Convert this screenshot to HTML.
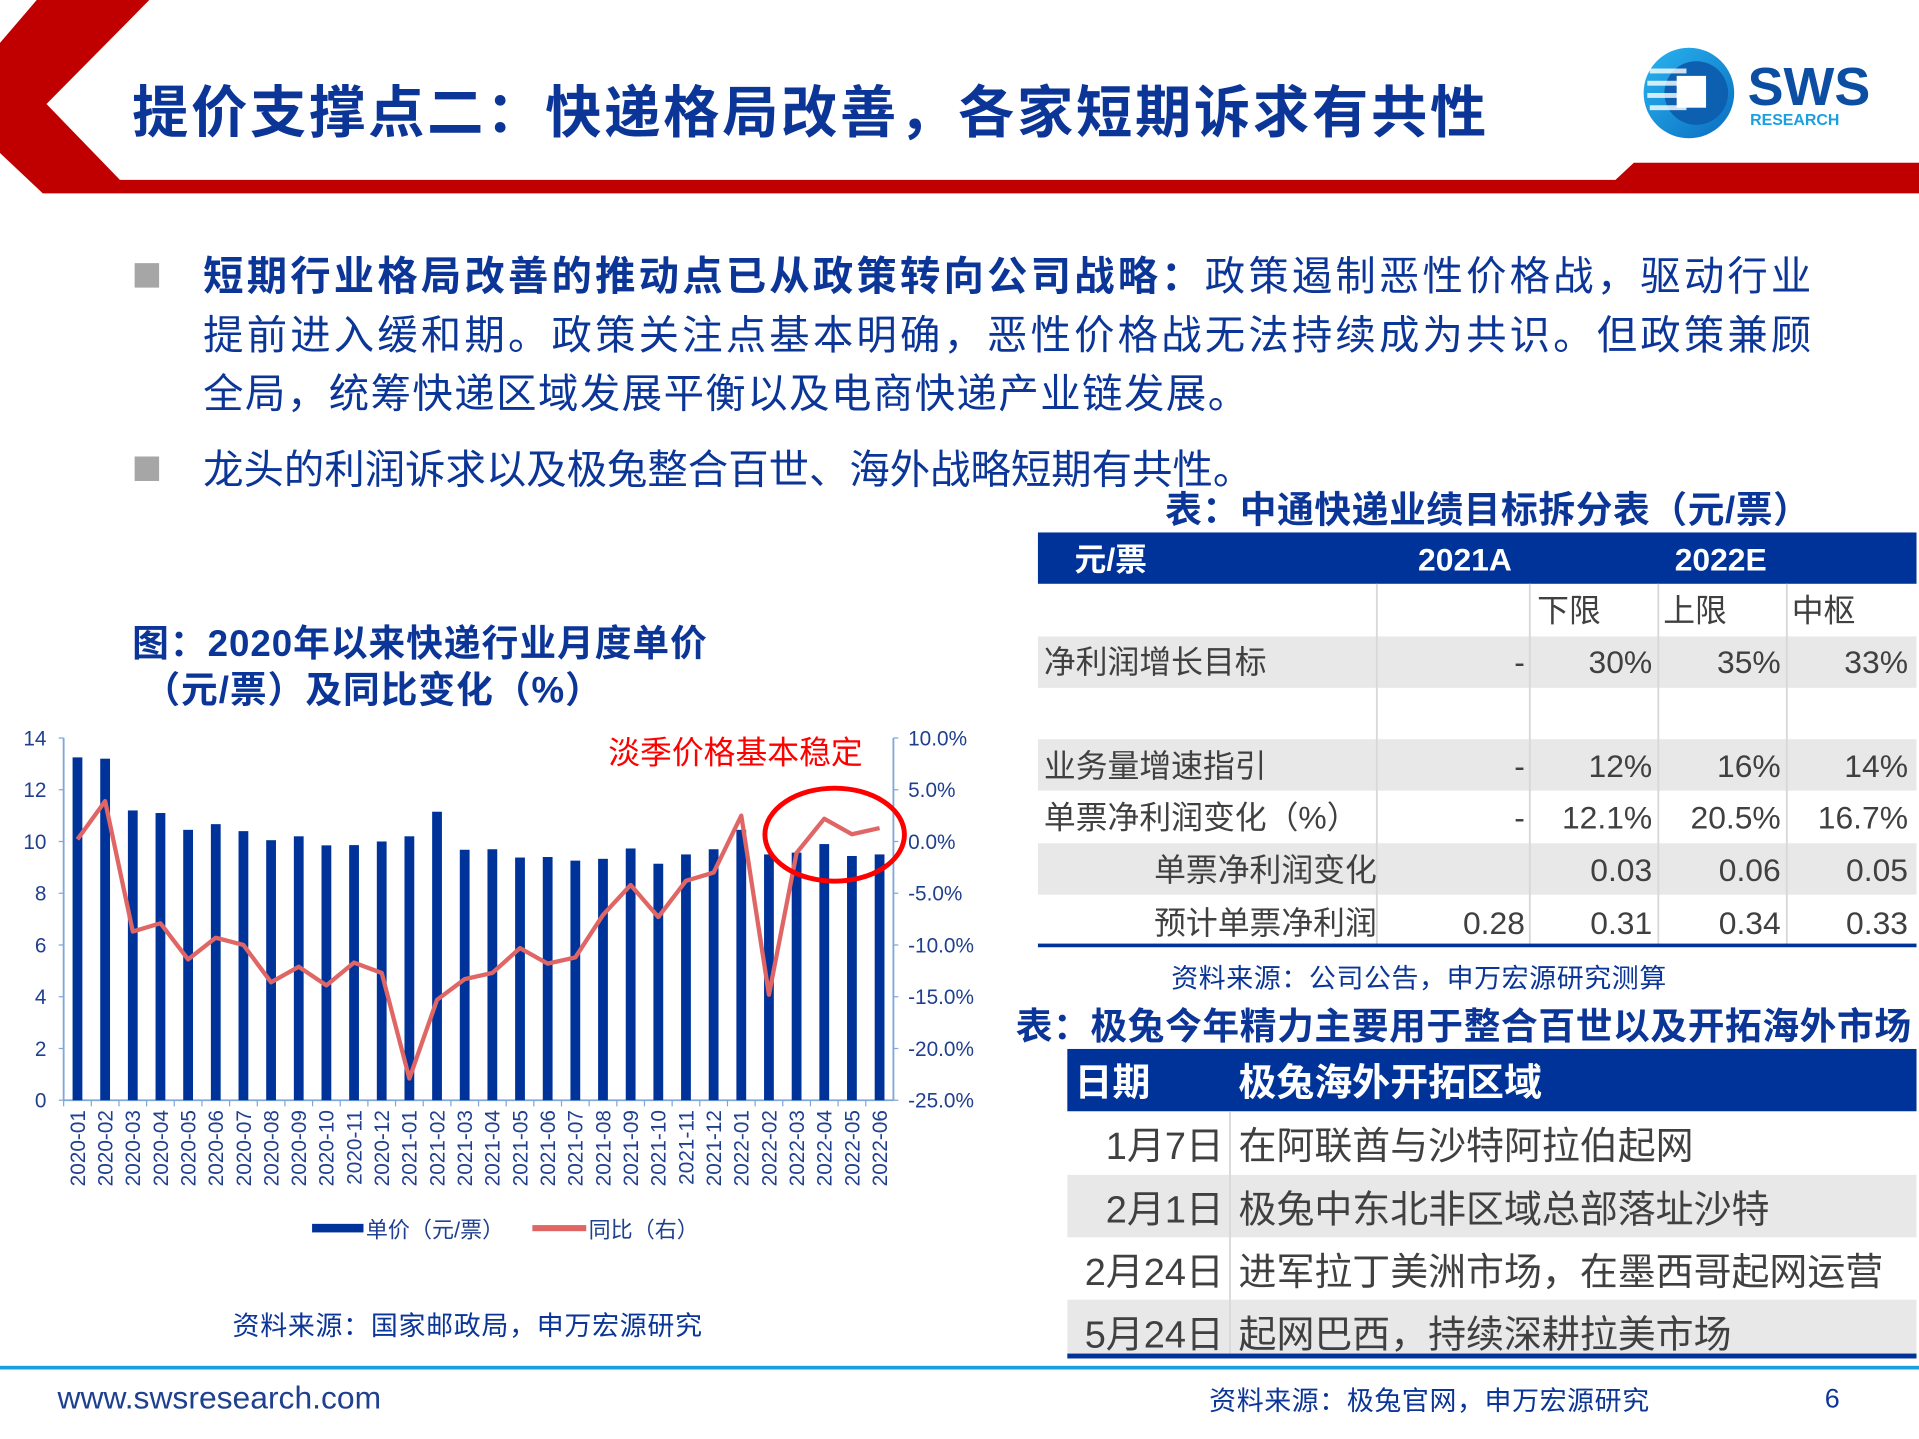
<!DOCTYPE html>
<html><head><meta charset="utf-8">
<style>
html,body{margin:0;padding:0;background:#fff;}
body{width:1919px;height:1439px;overflow:hidden;position:relative;}
#wrap{position:absolute;left:0;top:0;width:1568px;height:1176px;transform:scale(1.22385);transform-origin:0 0;font-family:"Liberation Sans","Noto Sans CJK SC",sans-serif;}
.abs{position:absolute;white-space:nowrap;}
.blue{color:#0b3596;}
.t{font-weight:bold;color:#0b3596;}
.jl{display:block;width:1314px;text-align:justify;text-align-last:justify;}
</style></head><body>
<div id="wrap">
<svg class="abs" style="left:0;top:0" width="1568" height="170">
<polygon points="30,0 122,0 38,85 98,147 1320,147 1335,133 1568,133 1568,158 35,158 0,125 0,35" fill="#c00000"/>
</svg>
<div class="abs t" style="left:108px;top:56px;font-size:46px;letter-spacing:2.2px">提价支撑点二：快递格局改善，各家短期诉求有共性</div>
<svg class="abs" style="left:1340px;top:36px" width="200" height="80">
<defs><linearGradient id="lg" x1="0" y1="0" x2="1" y2="1"><stop offset="0" stop-color="#29b5f0"/><stop offset="1" stop-color="#0a6cc0"/></linearGradient></defs>
<circle cx="40" cy="40" r="37" fill="url(#lg)"/>
<circle cx="46" cy="40" r="26" fill="#0d5fb0"/>
<rect x="8" y="20" width="30" height="4" fill="#fff" opacity=".8"/><rect x="6" y="30" width="32" height="4" fill="#fff" opacity=".8"/><rect x="6" y="40" width="32" height="4" fill="#fff" opacity=".8"/><rect x="8" y="50" width="30" height="4" fill="#fff" opacity=".8"/>
<rect x="30" y="26" width="24" height="26" fill="#fff"/>
<text x="88" y="50" font-family="Liberation Sans" font-weight="bold" font-size="44" fill="#0b4ea2">SWS</text>
<text x="90" y="66" font-family="Liberation Sans" font-weight="bold" font-size="13" fill="#1aa0e0">RESEARCH</text>
</svg>

<div class="abs" style="left:110px;top:215px;width:20px;height:20px;background:#a6a6a6"></div>
<div class="abs blue" style="left:166px;top:202px;font-size:33px;line-height:48px"><span class="jl"><b>短期行业格局改善的推动点已从政策转向公司战略：</b>政策遏制恶性价格战，驱动行业</span><span class="jl">提前进入缓和期。政策关注点基本明确，恶性价格战无法持续成为共识。但政策兼顾</span><span style="display:block;letter-spacing:1.2px">全局，统筹快递区域发展平衡以及电商快递产业链发展。</span></div>
<div class="abs" style="left:110px;top:373px;width:20px;height:20px;background:#a6a6a6"></div>
<div class="abs blue" style="left:166px;top:360px;font-size:33px;line-height:48px">龙头的利润诉求以及极兔整合百世、海外战略短期有共性。</div>

<div class="abs t" style="left:108px;top:508px;font-size:30px;line-height:38px;letter-spacing:0.8px">图：2020年以来快递行业月度单价<br>&nbsp;（元/票）及同比变化（%）</div>

<svg id="chart" class="abs" style="left:0;top:590px" width="820" height="440"></svg>
<div class="abs blue" style="left:190px;top:1066px;font-size:22px;letter-spacing:0.6px">资料来源：国家邮政局，申万宏源研究</div>

<div class="abs t" style="left:952px;top:392px;font-size:30px;letter-spacing:0.5px">表：中通快递业绩目标拆分表（元/票）</div>
<svg class="abs" style="left:848px;top:435px" width="718" height="342">
<g font-family="Liberation Sans,Noto Sans CJK SC,sans-serif" font-size="26" fill="#404040">
<rect x="0" y="0" width="718" height="42" fill="#00339a"/>
<g fill="#fff" font-weight="bold"><text x="30" y="31">元/票</text><text x="349" y="31" text-anchor="middle">2021A</text><text x="558" y="31" text-anchor="middle">2022E</text></g>
<g transform="translate(0,42)">
<rect x="0" y="43" width="718" height="42" fill="#e8e8e8"/>
<rect x="0" y="127" width="718" height="42" fill="#e8e8e8"/>
<rect x="0" y="212" width="718" height="42" fill="#e8e8e8"/>
<g stroke="#d8d8d8" stroke-width="1.5"><line x1="277" y1="0" x2="277" y2="296"/><line x1="402" y1="0" x2="402" y2="296"/><line x1="507" y1="0" x2="507" y2="296"/><line x1="612" y1="0" x2="612" y2="296"/></g>
<rect x="0" y="294" width="718" height="3" fill="#00339a"/>
<text x="408" y="31">下限</text><text x="511" y="31">上限</text><text x="616" y="31">中枢</text>
<text x="5" y="73">净利润增长目标</text>
<text x="5" y="158">业务量增速指引</text>
<text x="5" y="200">单票净利润变化（%）</text>
<text x="95" y="243">单票净利润变化</text>
<text x="95" y="286">预计单票净利润</text>
<g text-anchor="end">
<text x="398" y="73">-</text><text x="502" y="73">30%</text><text x="607" y="73">35%</text><text x="711" y="73">33%</text>
<text x="398" y="158">-</text><text x="502" y="158">12%</text><text x="607" y="158">16%</text><text x="711" y="158">14%</text>
<text x="398" y="200">-</text><text x="502" y="200">12.1%</text><text x="607" y="200">20.5%</text><text x="711" y="200">16.7%</text>
<text x="502" y="243">0.03</text><text x="607" y="243">0.06</text><text x="711" y="243">0.05</text>
<text x="398" y="286">0.28</text><text x="502" y="286">0.31</text><text x="607" y="286">0.34</text><text x="711" y="286">0.33</text>
</g></g></g></svg>
<div class="abs blue" style="left:957px;top:782px;font-size:22px;letter-spacing:0.5px">资料来源：公司公告，申万宏源研究测算</div>

<div class="abs t" style="left:830px;top:814px;font-size:30px;letter-spacing:0.5px">表：极兔今年精力主要用于整合百世以及开拓海外市场</div>
<svg class="abs" style="left:872px;top:857px" width="694" height="256">
<g font-family="Liberation Sans,Noto Sans CJK SC,sans-serif" font-size="31" fill="#404040">
<rect x="0" y="0" width="694" height="51" fill="#00339a"/>
<text x="6" y="38" fill="#fff" font-weight="bold">日期</text><text x="140" y="38" fill="#fff" font-weight="bold">极兔海外开拓区域</text>
<rect x="0" y="103" width="694" height="51" fill="#e8e8e8"/>
<rect x="0" y="205" width="694" height="45" fill="#e8e8e8"/>
<line x1="133" y1="51" x2="133" y2="250" stroke="#d8d8d8" stroke-width="1.5"/>
<rect x="0" y="249" width="694" height="4" fill="#00339a"/>
<g text-anchor="end"><text x="128" y="90">1月7日</text><text x="128" y="142">2月1日</text><text x="128" y="193">2月24日</text><text x="128" y="244">5月24日</text></g>
<text x="140" y="90">在阿联酋与沙特阿拉伯起网</text>
<text x="140" y="142">极兔中东北非区域总部落址沙特</text>
<text x="140" y="193">进军拉丁美洲市场，在墨西哥起网运营</text>
<text x="140" y="244">起网巴西，持续深耕拉美市场</text>
</g></svg>

<div class="abs" style="left:0;top:1116px;width:1568px;height:3px;background:#1aa0e0"></div>
<div class="abs" style="left:47px;top:1127px;font-size:26px;color:#1f3f8f">www.swsresearch.com</div>
<div class="abs blue" style="left:988px;top:1127px;font-size:22px;letter-spacing:0.5px">资料来源：极兔官网，申万宏源研究</div>
<div class="abs blue" style="left:1491px;top:1130px;font-size:22px">6</div>
</div>

<script>
const categories=["2020-01","2020-02","2020-03","2020-04","2020-05","2020-06","2020-07","2020-08","2020-09","2020-10","2020-11","2020-12","2021-01","2021-02","2021-03","2021-04","2021-05","2021-06","2021-07","2021-08","2021-09","2021-10","2021-11","2021-12","2022-01","2022-02","2022-03","2022-04","2022-05","2022-06"];
const priceValues=[13.25,13.2,11.2,11.1,10.45,10.67,10.4,10.05,10.2,9.85,9.86,10.0,10.2,11.15,9.68,9.7,9.38,9.4,9.26,9.33,9.73,9.14,9.5,9.7,10.45,9.5,9.57,9.9,9.44,9.5];
const yoyValues=[0.2,3.9,-8.7,-7.9,-11.4,-9.3,-10.0,-13.6,-12.1,-13.9,-11.7,-12.7,-22.9,-15.3,-13.3,-12.7,-10.3,-11.8,-11.2,-7.1,-4.2,-7.3,-3.8,-3.0,2.5,-14.8,-1.1,2.2,0.7,1.3];
const leftTicks=[0,2,4,6,8,10,12,14];
const rightTicks=[-25,-20,-15,-10,-5,0,5,10];
const rightTickLabels=["-25.0%","-20.0%","-15.0%","-10.0%","-5.0%","0.0%","5.0%","10.0%"];

const svg=document.getElementById('chart');
const NS='http://www.w3.org/2000/svg';
const X0=52,X1=730,TOP=13,BOT=309;
const bw=(X1-X0)/categories.length;
const xC=i=>X0+bw*(i+0.5);
const yL=v=>BOT-(v/14)*(BOT-TOP);
const yR=v=>BOT-((v+25)/35)*(BOT-TOP);
function mk(tag,attrs,parent){const e=document.createElementNS(NS,tag);for(const k in attrs)e.setAttribute(k,attrs[k]);(parent||svg).appendChild(e);return e;}
const F='Liberation Sans, Noto Sans CJK SC, sans-serif';
const axL=mk('line',{x1:X0,y1:TOP,x2:X0,y2:BOT,stroke:'#7fa7d9','stroke-width':1.5});


const axR=mk('line',{x1:X1,y1:TOP,x2:X1,y2:BOT,stroke:'#7fa7d9','stroke-width':1.5});


const axB=mk('line',{x1:X0,y1:BOT,x2:X1,y2:BOT,stroke:'#7fa7d9','stroke-width':1.5});


leftTicks.forEach(v=>{
  mk('line',{x1:X0-4,y1:yL(v),x2:X0,y2:yL(v),stroke:'#7fa7d9'});
  const t=mk('text',{x:X0-14,y:yL(v)+6,'text-anchor':'end','font-size':17,fill:'#1f3f8f','font-family':F});
  t.textContent=v;
  
  
});
rightTicks.forEach((v,i)=>{
  mk('line',{x1:X1,y1:yR(v),x2:X1+4,y2:yR(v),stroke:'#7fa7d9'});
  const t=mk('text',{x:X1+12,y:yR(v)+6,'font-size':17,fill:'#1f3f8f','font-family':F});
  t.textContent=rightTickLabels[i];
  
  
});
categories.forEach((c,i)=>{
  mk('line',{x1:X0+bw*i,y1:BOT,x2:X0+bw*i,y2:BOT+5,stroke:'#7fa7d9'});
  const r=mk('rect',{x:xC(i)-4,y:yL(priceValues[i]),width:8,height:BOT-yL(priceValues[i]),fill:'#00339a'});
  
  
  const t=mk('text',{x:0,y:0,'text-anchor':'end','font-size':17,fill:'#1f3f8f','font-family':F,transform:`translate(${xC(i)+6},${BOT+8}) rotate(-90)`});
  t.textContent=c;
  
  
});
const line=mk('polyline',{points:yoyValues.map((v,i)=>xC(i)+','+yR(v)).join(' '),fill:'none',stroke:'#e06666','stroke-width':3.5,'stroke-linejoin':'round'});


const ann=mk('text',{x:497,y:34,'font-size':26,fill:'#ff0000','font-family':F});
ann.textContent='淡季价格基本稳定';


const el=mk('ellipse',{cx:682,cy:92,rx:57,ry:38,fill:'none',stroke:'#ff0000','stroke-width':4});


mk('rect',{x:255,y:410,width:42,height:7,fill:'#00339a'});
const l1=mk('text',{x:299,y:421,'font-size':18,fill:'#1f3f8f','font-family':F});
l1.textContent='单价（元/票）';


mk('rect',{x:435,y:411,width:44,height:5,fill:'#e06666'});
const l2=mk('text',{x:481,y:421,'font-size':18,fill:'#1f3f8f','font-family':F});
l2.textContent='同比（右）';


</script>
</body></html>
